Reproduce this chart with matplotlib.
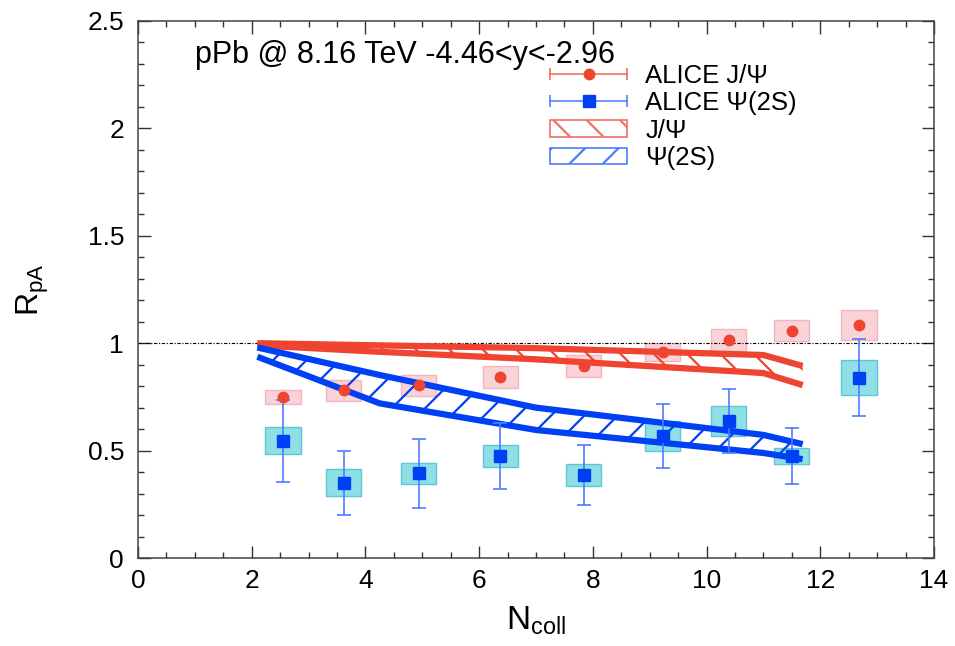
import matplotlib
matplotlib.use('Agg')
import matplotlib.pyplot as plt
from matplotlib.lines import Line2D
from matplotlib.patches import Patch
from matplotlib.legend_handler import HandlerBase
from matplotlib.ticker import MultipleLocator, FormatStrFormatter

plt.rcParams['font.family'] = ['Liberation Sans', 'DejaVu Sans']
plt.rcParams['hatch.linewidth'] = 1.6

# ALICE data
ncoll = [2.55, 3.62, 4.94, 6.37, 7.84, 9.23, 10.39, 11.5, 12.68]
jpsi = [0.75, 0.78, 0.805, 0.843, 0.894, 0.96, 1.015, 1.057, 1.085]
jpsi_stat = [0.015] * 9
jpsi_sys = [0.033, 0.05, 0.049, 0.051, 0.05, 0.042, 0.05, 0.049, 0.07]
psi2s = [0.545, 0.35, 0.395, 0.475, 0.386, 0.568, 0.638, 0.475, 0.839]
psi2s_stat = [0.19, 0.15, 0.16, 0.155, 0.14, 0.15, 0.15, 0.13, 0.18]
psi2s_sys = [0.063, 0.063, 0.049, 0.051, 0.051, 0.07, 0.07, 0.039, 0.081]
box_half = 0.31

# model bands
band_x = [2.1, 4.25, 7.0, 11.0, 11.69]
jpsi_hi = [1.0, 0.99, 0.977, 0.945, 0.894]
jpsi_lo = [0.99, 0.96, 0.925, 0.861, 0.805]
psi_hi = [0.98, 0.852, 0.70, 0.573, 0.53]
psi_lo = [0.937, 0.72, 0.596, 0.489, 0.46]

RED = '#ee4430'
BLUE = '#0040f5'


class HandlerHErr(HandlerBase):
    '''horizontal error bar with caps, marker in the middle'''
    def create_artists(self, legend, orig_handle, xdescent, ydescent,
                       width, height, fontsize, trans):
        y = height / 2 - ydescent
        x0 = -xdescent
        x1 = x0 + width
        col = orig_handle.get_color()
        bar = Line2D([x0, x1], [y, y], color=col, lw=1.2)
        caps = Line2D([x0, x1], [y, y], ls='none', marker='|', ms=9,
                      mew=1.2, color=col)
        mk = Line2D([(x0 + x1) / 2], [y], ls='none',
                    marker=orig_handle.get_marker(),
                    ms=orig_handle.get_markersize(),
                    color=orig_handle.get_markerfacecolor())
        for a in (bar, caps, mk):
            a.set_transform(trans)
        return [bar, caps, mk]


fig = plt.figure(figsize=(9.55, 6.46), dpi=100)
ax = fig.add_axes([0.1445, 0.1362, 0.8335, 0.8313])

# systematic boxes
ax.bar(ncoll, [2 * s for s in jpsi_sys],
       bottom=[v - s for v, s in zip(jpsi, jpsi_sys)],
       width=2 * box_half, color='#f9d3d7', edgecolor='#f4b5bd',
       linewidth=1, zorder=1)
ax.bar(ncoll, [2 * s for s in psi2s_sys],
       bottom=[v - s for v, s in zip(psi2s, psi2s_sys)],
       width=2 * box_half, color='#8fdfe7', edgecolor='#5cc6d8',
       linewidth=1, zorder=1)

# reference line
ax.axhline(1.0, color='black', lw=0.8, ls=(0, (3, 1.5, 1, 1.5)), zorder=2)

# bands
ax.fill_between(band_x, jpsi_lo, jpsi_hi, facecolor='none', edgecolor=RED,
                hatch='\\', linewidth=0, zorder=3)
ax.plot(band_x, jpsi_hi, color=RED, lw=4.5, zorder=3, solid_capstyle='butt')
ax.plot(band_x, jpsi_lo, color=RED, lw=4.5, zorder=3, solid_capstyle='butt')
ax.fill_between(band_x, psi_lo, psi_hi, facecolor='none', edgecolor=BLUE,
                hatch='/', linewidth=0, zorder=3)
ax.plot(band_x, psi_hi, color=BLUE, lw=4.5, zorder=3, solid_capstyle='butt')
ax.plot(band_x, psi_lo, color=BLUE, lw=4.5, zorder=3, solid_capstyle='butt')

# data points (J/psi stat. errors are hidden under the markers)
ax.errorbar(ncoll, jpsi, yerr=jpsi_stat, fmt='o', color=RED, ms=7.5,
            ecolor='#f07060', elinewidth=1, capsize=0, zorder=4)
ax.errorbar(ncoll, psi2s, yerr=psi2s_stat, fmt='s', color=BLUE, ms=8.5,
            ecolor='#4d7cff', elinewidth=1.2, capsize=5, capthick=1.2,
            zorder=4)

ax.set_xlim(0, 14)
ax.set_ylim(0, 2.5)
ax.xaxis.set_major_locator(MultipleLocator(2))
ax.xaxis.set_minor_locator(MultipleLocator(0.5))
ax.yaxis.set_major_locator(MultipleLocator(0.5))
ax.yaxis.set_minor_locator(MultipleLocator(0.1))
ax.xaxis.set_major_formatter(FormatStrFormatter('%g'))
ax.yaxis.set_major_formatter(FormatStrFormatter('%g'))
ax.tick_params(which='both', direction='in', top=True, right=True,
               color='#333333', width=1)
ax.tick_params(which='major', length=9)
ax.tick_params(which='minor', length=4.5)
ax.tick_params(axis='x', labelsize=19, pad=8)
ax.tick_params(axis='y', labelsize=19, pad=10)
for s in ax.spines.values():
    s.set_color('#444444')
    s.set_linewidth(1.1)

ax.set_xlabel(r'N$_{\mathregular{coll}}$', fontsize=24, labelpad=8)
ax.set_ylabel(r'R$_{\mathregular{pA}}$', fontsize=23, labelpad=26)

ax.text(0.0716, 0.922, 'pPb @ 8.16 TeV -4.46<y<-2.96', transform=ax.transAxes,
        fontsize=22, va='baseline', ha='left')

h_j = Line2D([], [], color='#f07060', marker='o', ms=7.5, markerfacecolor=RED)
h_p = Line2D([], [], color='#5580ff', marker='s', ms=8.5, markerfacecolor=BLUE)
h_jb = Patch(facecolor='none', edgecolor='#f07060', hatch='\\', lw=1.2)
h_pb = Patch(facecolor='none', edgecolor='#4d7cff', hatch='/', lw=1.2)
ax.legend([h_j, h_p, h_jb, h_pb],
          ['ALICE J/Ψ', 'ALICE Ψ(2S)', 'J/Ψ', 'Ψ(2S)'],
          handler_map={h_j: HandlerHErr(), h_p: HandlerHErr()},
          loc='upper left', bbox_to_anchor=(0.518, 0.92), frameon=False,
          fontsize=18.5, handlelength=3.0, handleheight=0.6,
          handletextpad=0.7, labelspacing=0.13, borderpad=0,
          borderaxespad=0)

fig.savefig('out.png', dpi=100)
